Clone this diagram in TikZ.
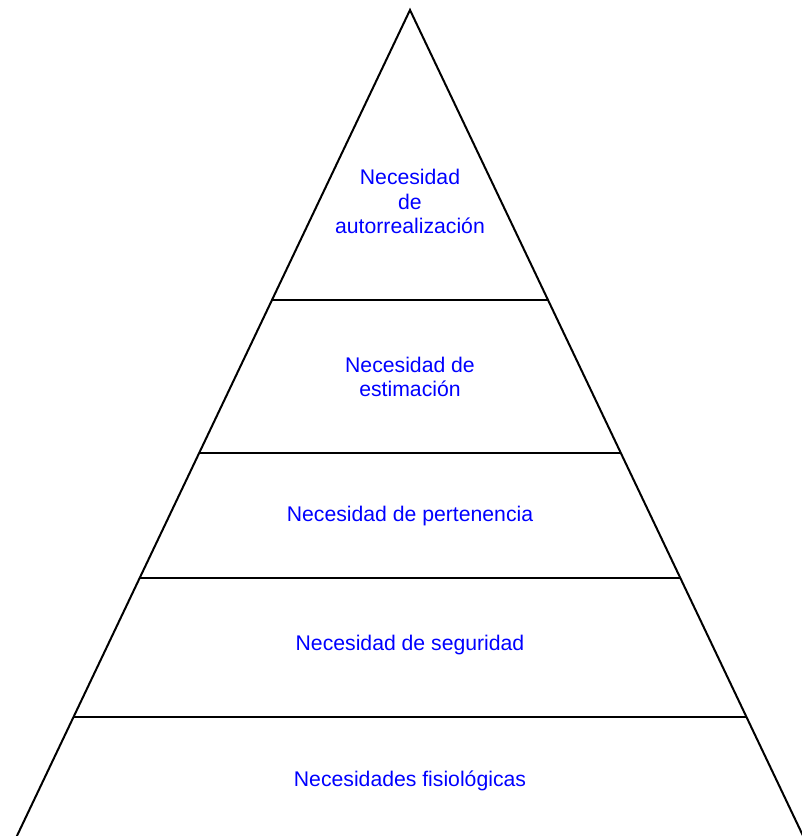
\documentclass[tikz,border=0pt]{standalone}
\usepackage{fontspec}
\setmainfont{Liberation Sans}
\usepackage{xcolor}
\usetikzlibrary{calc}
\tikzset{
    edge/.style={draw, line width=1pt, line join=miter},
    level/.style={draw, line width=0.9pt},
    need/.style={align=center, text=blue, inner sep=0pt, font=\fontsize{10.6}{12.3}\selectfont},
}

\begin{document}
\begin{tikzpicture}[x=0.5pt, y=-0.5pt]
    \useasboundingbox (0,0) rectangle (802,836);
    \clip (0,0) rectangle (802,836);

    % apex and the far base corners (cut off by the page)
    \coordinate (apex) at (410,10);
    \coordinate (baseL) at (-5,882);
    \coordinate (baseR) at (825,882);
    \draw[edge] (baseL) -- (apex) -- (baseR);

    % dividing lines
    \foreach \y/\n in {300/a, 453/b, 578/c, 717/d} {
        \coordinate (l\n) at ({410-0.4758*(\y-10)},\y);
        \coordinate (r\n) at ({410+0.4758*(\y-10)},\y);
        \draw[level] (l\n) -- (r\n);
    }

    \node[need] (self) at (410,201.5) {Necesidad\\de\\autorrealizaci\'on};
    \node[need] (esteem) at (410,377) {Necesidad de\\estimaci\'on};
    \node[need] (belong) at (410,516) {Necesidad de pertenencia};
    \node[need] (safety) at (410,645) {Necesidad de seguridad};
    \node[need] (body) at (410,781) {Necesidades fisiol\'ogicas};
\end{tikzpicture}
\end{document}
